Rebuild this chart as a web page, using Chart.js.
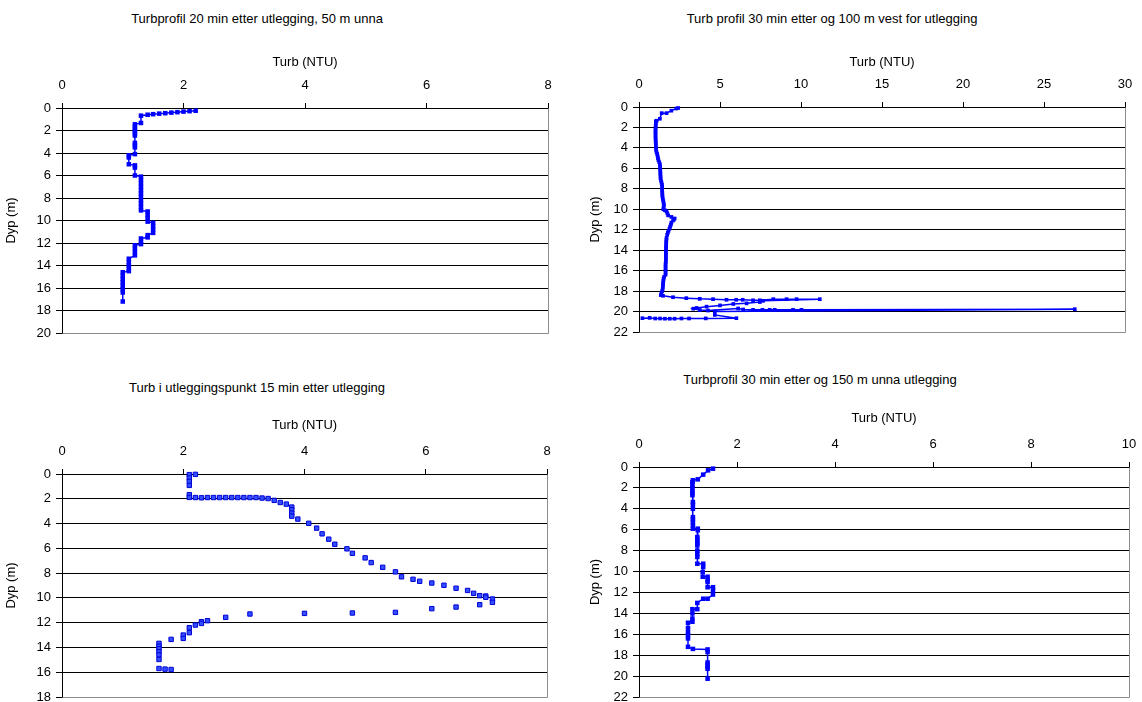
<!DOCTYPE html>
<html><head><meta charset="utf-8">
<script src="https://cdn.jsdelivr.net/npm/chart.js@4"></script>
<style>
html,body{margin:0;padding:0;background:#fff;width:1142px;height:702px;overflow:hidden;position:relative;font-family:'Liberation Sans',Arial,sans-serif;}
.t{position:absolute;font-size:13px;white-space:nowrap;transform:translateX(-50%);color:#000;line-height:16px;}
canvas{position:absolute;}
</style></head><body>
<div class="t" style="left:257px;top:11px">Turbprofil 20 min etter utlegging, 50 m unna</div>
<div class="t" style="left:832px;top:11px">Turb profil 30 min etter og 100 m vest for utlegging</div>
<div class="t" style="left:257px;top:380px">Turb i utleggingspunkt 15 min etter utlegging</div>
<div class="t" style="left:820px;top:372px">Turbprofil 30 min etter og 150 m unna utlegging</div>
<canvas id="c1" width="562" height="320" style="left:0px;top:40px"></canvas>
<canvas id="c2" width="558" height="320" style="left:584px;top:40px"></canvas>
<canvas id="c3" width="562" height="320" style="left:0px;top:405px"></canvas>
<canvas id="c4" width="558" height="320" style="left:584px;top:398px"></canvas>
<script>
// ---- Data (Turb NTU vs depth m) ----
const turb1 = [2.20,2.10,2.00,1.90,1.80,1.70,1.60,1.50,1.41,1.30,1.30,1.20,1.20,1.20,1.20,1.20,1.20,1.20,1.20,1.20,1.20,1.10,1.10,1.10,1.20,1.20,1.20,1.30,1.30,1.30,1.30,1.30,1.30,1.30,1.30,1.30,1.30,1.30,1.41,1.41,1.41,1.41,1.50,1.50,1.50,1.50,1.41,1.41,1.30,1.30,1.30,1.20,1.20,1.20,1.20,1.10,1.10,1.10,1.10,1.10,1.00,1.00,1.00,1.00,1.00,1.00,1.00,1.00];
const depth1 = [0.24,0.28,0.32,0.37,0.41,0.46,0.50,0.55,0.60,0.68,1.33,1.45,1.65,1.85,2.05,2.25,2.45,3.1,3.3,3.5,4.1,4.2,4.4,5.0,5.1,5.3,6.0,6.1,6.4,6.7,7.0,7.3,7.6,7.9,8.2,8.5,8.8,9.1,9.2,9.5,9.8,10.1,10.2,10.5,10.8,11.1,11.3,11.5,11.6,11.9,12.1,12.2,12.5,12.8,13.1,13.4,13.7,14.0,14.3,14.5,14.6,14.9,15.2,15.5,15.8,16.1,16.4,17.2];

const turb2 = [2.42,2.30,2.00,1.70,1.40,1.29,1.09,
  1.04,1.04,1.03,1.03,1.02,1.02,1.02,1.02,1.02,1.03,1.03,1.04,1.04,1.05,1.06,1.08,1.12,1.15,1.17,1.20,1.25,1.29,1.30,1.31,1.31,1.32,1.32,1.33,1.33,1.36,1.39,1.42,1.43,1.43,1.43,1.44,1.44,1.45,1.47,1.50,1.52,1.54,1.52,1.50,1.60,1.70,1.75,1.80,2.00,2.20,2.15,2.10,2.00,1.97,1.92,1.88,1.82,1.78,1.74,1.70,1.69,1.68,1.68,1.67,1.67,1.66,1.66,1.66,1.66,1.66,1.66,1.65,1.64,1.64,1.64,1.64,1.64,1.64,1.55,1.52,1.50,1.49,1.48,1.47,1.46,1.43,1.38,1.35,
  1.48,2.10,2.92,3.75,4.57,5.40,6.00,6.40,7.04,7.46,8.29,9.11,9.73,11.16,7.66,7.46,6.64,5.82,5.00,4.17,3.56,3.35,3.75,4.26,6.12,6.43,7.04,7.62,8.07,8.38,9.51,10.03,26.9,4.68,4.68,6.01,4.12,3.09,2.62,2.20,1.90,1.60,1.30,1.00,0.66,0.21];
const depth2 = [0.10,0.15,0.36,0.60,0.60,1.15,1.34,
  1.4,1.6,1.8,2.0,2.2,2.4,2.6,2.8,3.0,3.2,3.4,3.6,3.8,4.0,4.2,4.4,4.6,4.8,5.0,5.2,5.4,5.6,5.8,6.0,6.2,6.4,6.6,6.8,7.0,7.2,7.4,7.6,7.8,8.0,8.2,8.4,8.6,8.8,9.0,9.2,9.4,9.6,9.8,10.0,10.1,10.2,10.4,10.6,10.75,10.9,11.0,11.1,11.3,11.5,11.7,11.9,12.1,12.3,12.5,12.8,13.0,13.2,13.4,13.6,13.8,14.0,14.2,14.4,14.6,14.8,15.0,15.2,15.4,15.6,15.8,16.0,16.2,16.4,16.6,16.8,17.0,17.2,17.4,17.6,17.8,18.0,18.2,18.4,
  18.46,18.60,18.69,18.76,18.79,18.85,18.85,18.85,18.90,18.90,18.79,18.79,18.79,18.79,18.95,19.07,19.20,19.26,19.40,19.52,19.65,19.72,19.85,19.90,19.70,19.80,19.83,19.83,19.83,19.83,19.83,19.83,19.77,20.00,20.33,20.65,20.67,20.68,20.68,20.70,20.70,20.70,20.68,20.68,20.62,20.65];

const turb3 = [2.20,2.10,2.10,2.10,2.10,2.10,2.10,2.20,2.30,2.40,2.50,2.60,2.70,2.80,2.90,3.00,3.10,3.20,3.30,3.40,3.50,3.60,3.70,3.79,3.79,3.79,3.79,3.89,4.07,4.20,4.29,4.40,4.50,4.70,4.79,5.00,5.10,5.29,5.50,5.60,5.79,5.90,6.10,6.30,6.50,6.69,6.79,6.89,6.99,6.99,7.10,7.10,6.89,6.50,6.10,5.50,4.79,4.00,3.10,2.70,2.40,2.30,2.30,2.20,2.10,2.10,2.00,2.00,1.80,1.60,1.60,1.60,1.60,1.60,1.60,1.60,1.70,1.80];
const depth3 = [0.03,0.05,0.32,0.60,0.92,1.67,1.89,1.90,1.92,1.90,1.90,1.90,1.90,1.90,1.90,1.90,1.90,1.90,1.94,1.98,2.13,2.30,2.43,2.67,2.89,3.16,3.40,3.64,3.98,4.37,4.83,5.26,5.67,6.04,6.40,6.77,7.15,7.53,7.90,8.30,8.50,8.66,8.80,8.98,9.22,9.40,9.63,9.82,9.85,9.95,10.09,10.36,10.55,10.74,10.87,11.17,11.22,11.25,11.30,11.57,11.84,11.92,12.06,12.19,12.41,12.81,13.00,13.27,13.35,13.67,13.90,14.10,14.35,14.60,14.97,15.70,15.75,15.78];

const turb4 = [1.51,1.41,1.31,1.20,1.10,1.09,1.09,1.09,1.09,1.09,1.09,1.10,1.10,1.10,1.10,1.10,1.10,1.10,1.10,1.20,1.20,1.19,1.19,1.19,1.19,1.19,1.19,1.19,1.19,1.19,1.31,1.31,1.30,1.30,1.40,1.40,1.40,1.40,1.51,1.51,1.51,1.40,1.31,1.19,1.19,1.09,1.09,1.09,1.09,1.00,1.00,1.00,1.00,1.00,1.00,1.10,1.40,1.40,1.40,1.40,1.40,1.40,1.40];
const depth4 = [0.16,0.32,0.73,1.18,1.27,1.45,1.7,2.0,2.3,2.5,2.7,3.35,3.6,4.0,4.8,5.0,5.3,5.6,5.9,5.9,6.05,6.7,6.9,7.1,7.3,7.5,8.0,8.3,8.6,9.25,9.25,9.57,10.05,10.5,10.5,10.8,11.0,11.5,11.5,11.8,12.2,12.6,12.6,13.0,13.6,13.6,14.0,14.5,14.8,14.9,15.4,15.8,16.1,16.4,17.2,17.4,17.45,17.7,18.7,18.9,19.1,19.3,20.25];

const xTitle = 'Turb (NTU)';
const yTitle = 'Dyp (m)';

const FONT = {family:"'Liberation Sans', Arial, sans-serif", size:13};

const frame = {
  id:'frame',
  beforeDatasetsDraw(c){
    const a=c.chartArea, ctx=c.ctx;
    const al=p=>Math.round(p-0.5)+0.5;
    ctx.save();
    ctx.strokeStyle='#8c8c8c'; ctx.lineWidth=1;
    ctx.beginPath();
    ctx.moveTo(al(a.right), al(a.top)); ctx.lineTo(al(a.right), al(a.bottom));
    ctx.lineTo(al(a.left), al(a.bottom));
    ctx.stroke(); ctx.restore();
  }
};

function make(id, turb, depth, o){
  const pts = turb.map((v,i)=>({x:v, y:depth[i]}));
  new Chart(document.getElementById(id), {
    type:'scatter',
    data:{datasets:[{
      data:pts, showLine:o.line, borderColor:'#0000ff', borderWidth:o.lw||1.5,
      pointStyle:'rect', pointRadius:o.r, pointHoverRadius:o.r,
      pointBackgroundColor:o.bg||'#0000ff', pointBorderColor:o.bc||'#0000ff', pointBorderWidth:o.bw||0,
      tension:0, fill:false, clip:false
    }]},
    options:{
      responsive:false, animation:false, devicePixelRatio:1,
      layout:{padding:{left:0, top:0, right:o.pr, bottom:o.pb}},
      plugins:{legend:{display:false}, tooltip:{enabled:false}, title:{display:false}},
      events:[],
      scales:{
        x:{type:'linear', position:'top', min:0, max:o.xmax,
          ticks:{stepSize:o.xstep, color:'#000', font:FONT, padding:10, maxRotation:0},
          grid:{drawOnChartArea:false, drawTicks:true, tickLength:5, color:'#000', lineWidth:1},
          border:{display:true, color:'#000', width:1},
          title:{display:true, text:xTitle, color:'#000', font:FONT, padding:{top:o.tp, bottom:0}},
          afterFit(s){ s.height=o.xh; s.paddingLeft=0; s.paddingRight=0; }
        },
        y:{type:'linear', position:'left', reverse:true, min:0, max:o.ymax,
          ticks:{stepSize:2, color:'#000', font:FONT, padding:5},
          grid:{color:'#000', lineWidth:1, tickLength:6},
          border:{display:true, color:'#000', width:1},
          title:{display:true, text:yTitle, color:'#000', font:FONT, padding:{top:4, bottom:0}},
          afterFit(s){ s.width=o.yw; s.paddingTop=0; s.paddingBottom=0; }
        }
      }
    },
    plugins:[frame]
  });
}

make('c1', turb1, depth1, {xmax:8, xstep:2, ymax:20, yw:62, xh:68, pr:14, pb:27, tp:14.2, line:true, r:3.2});
make('c2', turb2, depth2, {xmax:30, xstep:5, ymax:22, yw:55, xh:67, pr:17, pb:28, tp:14.2, line:true, r:2.6, lw:1.5});
make('c3', turb3, depth3, {xmax:8, xstep:2, ymax:18, yw:62, xh:69, pr:15, pb:28, tp:12.2, line:false, r:3.1, bg:'rgb(50,80,255)', bc:'rgb(0,0,215)', bw:1});
make('c4', turb4, depth4, {xmax:10, xstep:2, ymax:22, yw:55, xh:69, pr:13, pb:21, tp:12.2, line:true, r:3.2});
</script>
</body></html>
